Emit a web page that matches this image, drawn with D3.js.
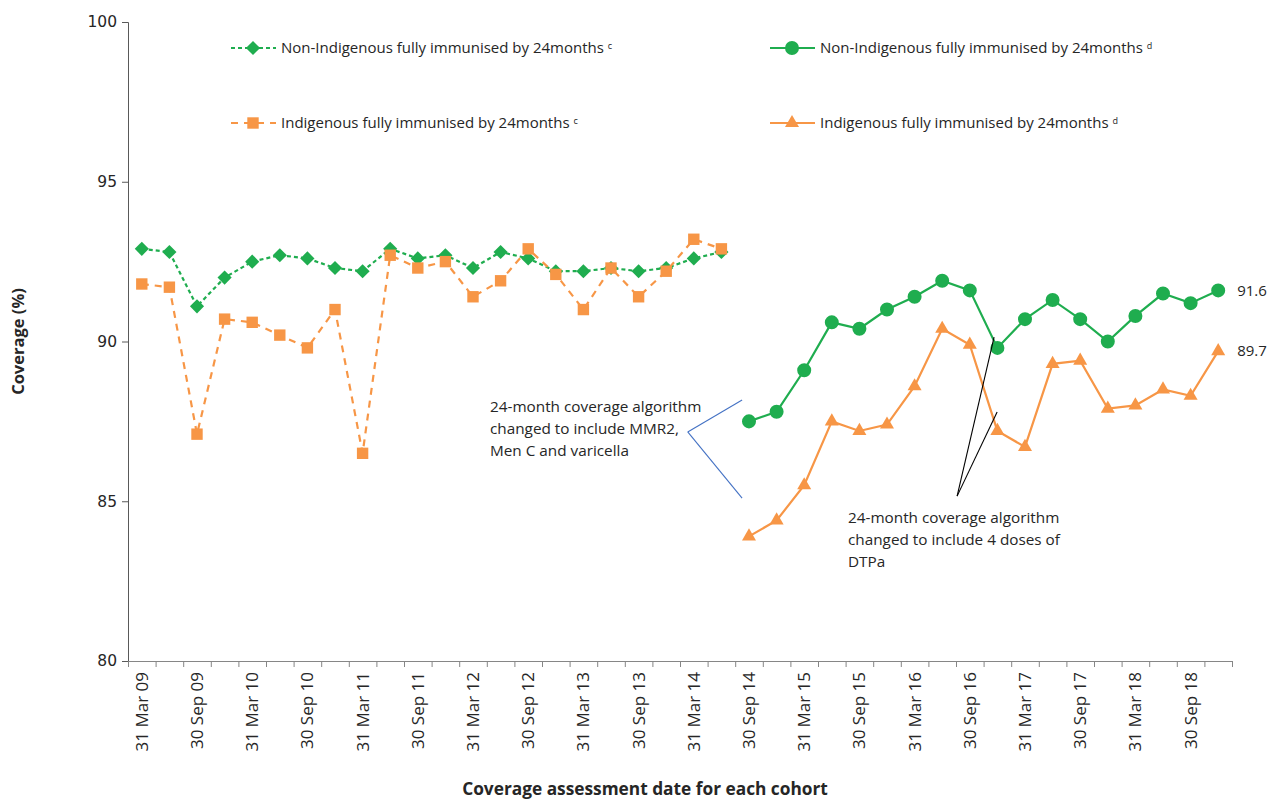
<!DOCTYPE html>
<html>
<head>
<meta charset="utf-8">
<script src="https://cdn.jsdelivr.net/npm/d3@7"></script>
<style>
  body { margin: 0; background: #fff; }
  svg text { font-family: "Open Sans", sans-serif; fill: #262626; }
</style>
</head>
<body>
<div id="chart"></div>
<script>
    // quarterly cohorts, Mar 09 .. Dec 18
    var quarters = [
        "31 Mar 09", "30 Jun 09", "30 Sep 09", "31 Dec 09",
        "31 Mar 10", "30 Jun 10", "30 Sep 10", "31 Dec 10",
        "31 Mar 11", "30 Jun 11", "30 Sep 11", "31 Dec 11",
        "31 Mar 12", "30 Jun 12", "30 Sep 12", "31 Dec 12",
        "31 Mar 13", "30 Jun 13", "30 Sep 13", "31 Dec 13",
        "31 Mar 14", "30 Jun 14", "30 Sep 14", "31 Dec 14",
        "31 Mar 15", "30 Jun 15", "30 Sep 15", "31 Dec 15",
        "31 Mar 16", "30 Jun 16", "30 Sep 16", "31 Dec 16",
        "31 Mar 17", "30 Jun 17", "30 Sep 17", "31 Dec 17",
        "31 Mar 18", "30 Jun 18", "30 Sep 18", "31 Dec 18"
    ];

    // old algorithm (c), Mar 09 .. Jun 14
    var nonIndigenousC = [92.9, 92.8, 91.1, 92.0, 92.5, 92.7, 92.6, 92.3, 92.2, 92.9, 92.6,
        92.7, 92.3, 92.8, 92.6, 92.2, 92.2, 92.3, 92.2, 92.3, 92.6, 92.8];
    var indigenousC = [91.8, 91.7, 87.1, 90.7, 90.6, 90.2, 89.8, 91.0, 86.5, 92.7, 92.3,
        92.5, 91.4, 91.9, 92.9, 92.1, 91.0, 92.3, 91.4, 92.2, 93.2, 92.9];

    // new algorithm (d), Sep 14 .. Dec 18
    var nonIndigenousD = [87.5, 87.8, 89.1, 90.6, 90.4, 91.0, 91.4, 91.9, 91.6, 89.8, 90.7,
        91.3, 90.7, 90.0, 90.8, 91.5, 91.2, 91.6];
    var indigenousD = [83.9, 84.4, 85.5, 87.5, 87.2, 87.4, 88.6, 90.4, 89.9, 87.2, 86.7,
        89.3, 89.4, 87.9, 88.0, 88.5, 88.3, 89.7];

    var yTicks = [80, 85, 90, 95, 100];

    var width = 1267, height = 799;
    var mLeft = 128, mRight = 1232, mTop = 22, mBottom = 661;
    var green = "#1fad4f", orange = "#f79646";

    var svg = d3.select("#chart").append("svg")
        .attr("width", width)
        .attr("height", height);

    var x = d3.scaleBand().domain(quarters).range([mLeft, mRight]);
    var y = d3.scaleLinear().domain([80, 100]).range([mBottom, mTop]);

    function cx(i) { return x(quarters[i]) + x.bandwidth() / 2; }

    // y axis
    var yAxis = svg.append("g")
        .attr("transform", "translate(" + mLeft + ",0)")
        .call(d3.axisLeft(y).tickValues(yTicks).tickSize(6).tickPadding(5));
    yAxis.select(".domain").attr("stroke", "#595959");
    yAxis.selectAll(".tick line").attr("stroke", "#595959");
    yAxis.selectAll("text").attr("fill", "#262626")
        .style("font-family", "'DejaVu Sans', sans-serif").style("font-size", "15.5px");

    // x axis: ticks between categories
    var edge = d3.scaleLinear().domain([0, quarters.length]).range([mLeft, mRight]);
    var xTicks = svg.append("g")
        .attr("transform", "translate(0," + mBottom + ")")
        .call(d3.axisBottom(edge).ticks(quarters.length).tickSize(6).tickFormat(""));
    xTicks.select(".domain").attr("stroke", "#868686");
    xTicks.selectAll(".tick line").attr("stroke", "#868686");

    var xLabels = svg.append("g")
        .attr("transform", "translate(0," + mBottom + ")")
        .call(d3.axisBottom(x).tickSize(0)
            .tickFormat(function (d, i) { return i % 2 === 0 ? d : ""; }));
    xLabels.select(".domain").remove();
    xLabels.selectAll("text")
        .style("font-size", "17px")
        .attr("fill", "#262626")
        .attr("text-anchor", "end")
        .attr("transform", "rotate(-90)")
        .attr("x", -11)
        .attr("y", 0)
        .attr("dy", "0.35em");

    // axis titles
    svg.append("text")
        .attr("transform", "translate(24," + ((mTop + mBottom) / 2) + ") rotate(-90)")
        .attr("text-anchor", "middle")
        .style("font-size", "16.5px").style("font-weight", "bold")
        .text("Coverage (%)");
    svg.append("text")
        .attr("x", 645).attr("y", 795)
        .attr("text-anchor", "middle")
        .style("font-size", "17.3px").style("font-weight", "bold")
        .text("Coverage assessment date for each cohort");

    var diamond = {
        draw: function (ctx, size) {
            var r = Math.sqrt(size / 2);
            ctx.moveTo(0, -r);
            ctx.lineTo(r, 0);
            ctx.lineTo(0, r);
            ctx.lineTo(-r, 0);
            ctx.closePath();
        }
    };

    var series = [
        { values: nonIndigenousC, start: 0, color: green, dash: "4,3", marker: diamond, size: 100,
            label: "Non-Indigenous fully immunised by 24months", sup: "c" },
        { values: nonIndigenousD, start: 22, color: green, dash: null, marker: d3.symbolCircle, size: 154,
            label: "Non-Indigenous fully immunised by 24months", sup: "d" },
        { values: indigenousC, start: 0, color: orange, dash: "7,6", marker: d3.symbolSquare, size: 130,
            label: "Indigenous fully immunised by 24months", sup: "c" },
        { values: indigenousD, start: 22, color: orange, dash: null, marker: d3.symbolTriangle, size: 85,
            label: "Indigenous fully immunised by 24months", sup: "d" }
    ];

    var line = d3.line()
        .x(function (d) { return cx(d.i); })
        .y(function (d) { return y(d.v); });

    series.forEach(function (s) {
        var pts = s.values.map(function (v, k) { return { i: s.start + k, v: v }; });
        svg.append("path")
            .datum(pts)
            .attr("d", line)
            .attr("fill", "none")
            .attr("stroke", s.color)
            .attr("stroke-width", 2.2)
            .attr("stroke-dasharray", s.dash);
        svg.append("g").selectAll("path")
            .data(pts)
            .enter()
            .append("path")
            .attr("d", d3.symbol().type(s.marker).size(s.size))
            .attr("fill", s.color)
            .attr("transform", function (d) { return "translate(" + cx(d.i) + "," + y(d.v) + ")"; });
    });

    // end labels
    [nonIndigenousD, indigenousD].forEach(function (vals) {
        var v = vals[vals.length - 1];
        svg.append("text")
            .attr("x", cx(quarters.length - 1) + 19)
            .attr("y", y(v))
            .attr("dy", "0.35em")
            .style("font-size", "15px")
            .text(v.toFixed(1));
    });

    // legend
    var legendPos = [[231, 48], [770, 48], [231, 123], [770, 123]];
    series.forEach(function (s, k) {
        var g = svg.append("g").attr("transform", "translate(" + legendPos[k][0] + "," + legendPos[k][1] + ")");
        g.append("line")
            .attr("x1", 0).attr("x2", 45)
            .attr("stroke", s.color).attr("stroke-width", 2.2)
            .attr("stroke-dasharray", s.dash);
        g.append("path")
            .attr("d", d3.symbol().type(s.marker).size(s.size))
            .attr("transform", "translate(22,0)")
            .attr("fill", s.color);
        var t = g.append("text")
            .attr("x", 50).attr("dy", "0.35em")
            .style("font-size", "15px")
            .text(s.label + " ");
        t.append("tspan")
            .attr("dy", "-0.45em")
            .style("font-size", "9px")
            .text(s.sup);
    });

    // annotations
    function note(lines, tx, ty) {
        var t = svg.append("text").attr("x", tx).attr("y", ty).style("font-size", "15.3px");
        lines.forEach(function (l, k) {
            t.append("tspan").attr("x", tx).attr("dy", k === 0 ? 0 : 22).text(l);
        });
    }
    note(["24-month coverage algorithm", "changed to include MMR2,", "Men C and varicella"], 490, 412);
    note(["24-month coverage algorithm", "changed to include 4 doses of", "DTPa"], 848, 523);

    // pointer lines, in (quarter edge, coverage) coordinates
    var pointers = [
        { from: [20.28, 87.17], to: [[22.25, 88.17], [22.25, 85.1]], color: "#4472c4" },
        { from: [30.04, 85.16], to: [[31.38, 90.14], [31.49, 87.79]], color: "#000" }
    ];
    pointers.forEach(function (p) {
        p.to.forEach(function (t) {
            svg.append("line")
                .attr("x1", edge(p.from[0])).attr("y1", y(p.from[1]))
                .attr("x2", edge(t[0])).attr("y2", y(t[1]))
                .attr("stroke", p.color).attr("stroke-width", 1.1);
        });
    });
</script>
</body>
</html>
